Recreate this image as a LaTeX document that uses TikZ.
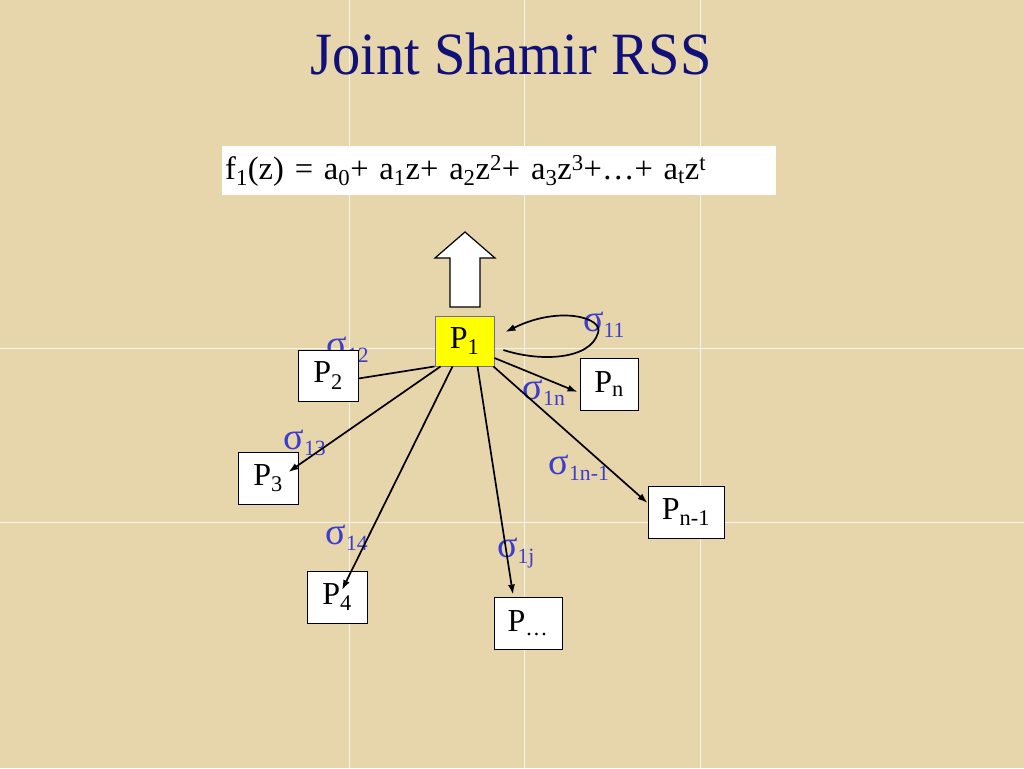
\documentclass[tikz,border=0pt]{standalone}
\usepackage{fontspec}
\usepackage{xcolor}
\usepackage{tikz}
\setmainfont{Liberation Serif}
\newfontfamily\titlefont[FakeStretch=0.94]{Liberation Serif}
\definecolor{parchment}{RGB}{231,214,172}
\definecolor{titleblue}{RGB}{16,16,120}
\definecolor{sigblue}{RGB}{60,60,205}
\definecolor{pyellow}{RGB}{255,255,0}
\definecolor{pborder}{RGB}{110,110,150}
\usetikzlibrary{arrows.meta,calc}

\newcommand{\sig}[1]{{\fontsize{38}{42}\selectfont σ}\textsubscript{#1}}

\tikzset{
  pbox/.style={draw, fill=white, inner sep=0pt, line width=0.9pt,
    font=\fontsize{32}{38}\selectfont},
  siglab/.style={text=sigblue, inner sep=0pt, font=\fontsize{31}{36}\selectfont},
  share/.style={-{Latex[length=10pt,width=7pt]}, line width=1.7pt}
}

\begin{document}
\begin{tikzpicture}[x=1pt,y=-1pt]
    % Background
    \fill[parchment] (0,0) rectangle (1024,768);
    \useasboundingbox (0,0) rectangle (1024,768);
    \draw[white, line width=0.8pt, opacity=0.75] (349,0) -- (349,768);
    \draw[white, line width=0.8pt, opacity=0.75] (524,0) -- (524,768);
    \draw[white, line width=0.8pt, opacity=0.75] (700,0) -- (700,768);
    \draw[white, line width=0.8pt, opacity=0.75] (0,348) -- (1024,348);
    \draw[white, line width=0.8pt, opacity=0.75] (0,522) -- (1024,522);

    % Title and polynomial
    \node (title) at (511,54) [text=titleblue, inner sep=0pt,
      font=\titlefont\fontsize{60}{70}\selectfont] {Joint Shamir RSS};
    \node (poly) at (222,146) [anchor=north west, fill=white, text width=548pt,
      inner xsep=3pt, inner ysep=0pt, minimum height=49pt, align=left,
      font=\fontsize{32.5}{36}\selectfont]
      {f\textsubscript{1}(z) = a\textsubscript{0}+ a\textsubscript{1}z+ a\textsubscript{2}z\textsuperscript{2}+ a\textsubscript{3}z\textsuperscript{3}+\dots+ a\textsubscript{t}z\textsuperscript{t}};

    % Block arrow up
    \draw[fill=white, line width=1.2pt] (450,307) -- (450,258) -- (435,258) -- (465,232)
      -- (495,258) -- (480,258) -- (480,307) -- cycle;

    % Sigma labels (s12 sits behind P2)
    \node (s12) at (348,350) [siglab] {\sig{12}};

    % Parties
    \node (p1) at (464.5,341) [pbox, fill=pyellow, draw=pborder, minimum width=59pt, minimum height=50pt] {P\textsubscript{1}};
    \node (p2) at (328,375.5) [pbox, minimum width=60pt, minimum height=51pt] {P\textsubscript{2}};
    \node (pn) at (609,384) [pbox, minimum width=58pt, minimum height=52pt] {P\textsubscript{n}};
    \node (p3) at (268,478) [pbox, minimum width=60pt, minimum height=52pt] {P\textsubscript{3}};
    \node (pm) at (686,512) [pbox, minimum width=76pt, minimum height=52pt] {P\textsubscript{n-1}};
    \node (p4) at (337,597) [pbox, minimum width=60pt, minimum height=52pt] {P\textsubscript{4}};
    \node (pd) at (528,623) [pbox, minimum width=68pt, minimum height=52pt] {P\textsubscript{\dots}};

    \node (s11) at (604,325) [siglab] {\sig{11}};
    \node (s1n) at (544,393) [siglab] {\sig{1n}};
    \node (s13) at (305,443) [siglab] {\sig{13}};
    \node (s1m) at (579,468) [siglab] {\sig{1n-1}};
    \node (s14) at (347,538) [siglab] {\sig{14}};
    \node (s1j) at (516,553) [siglab] {\sig{1j}};

    % Shares sent out by P1
    \draw[line width=1.7pt] (p1.south west) -- ([yshift=-3pt]p2.east);
    \draw[share] ([xshift=6pt]p1.south west) -- ([xshift=-10pt,yshift=6pt]p3.east);
    \draw[share] ([xshift=-12pt]p1.south) -- ([xshift=5pt,yshift=7pt]p4.center);
    \draw[share] ([xshift=13pt]p1.south) -- ([xshift=-15pt,yshift=2pt]pd.north);
    \draw[share] ([xshift=-1pt]p1.south east) -- ([yshift=9pt]pm.west);
    \draw[share] ([yshift=-17pt]p1.east) -- ([xshift=-2pt,yshift=-8pt]pn.west);
    \draw[share] ([xshift=9pt,yshift=-9pt]p1.east) .. controls (540,362) and (590,360) .. (598,333)
      .. controls (604,318) and (560,305) .. ([xshift=11pt,yshift=9pt]p1.east);
\end{tikzpicture}
\end{document}
